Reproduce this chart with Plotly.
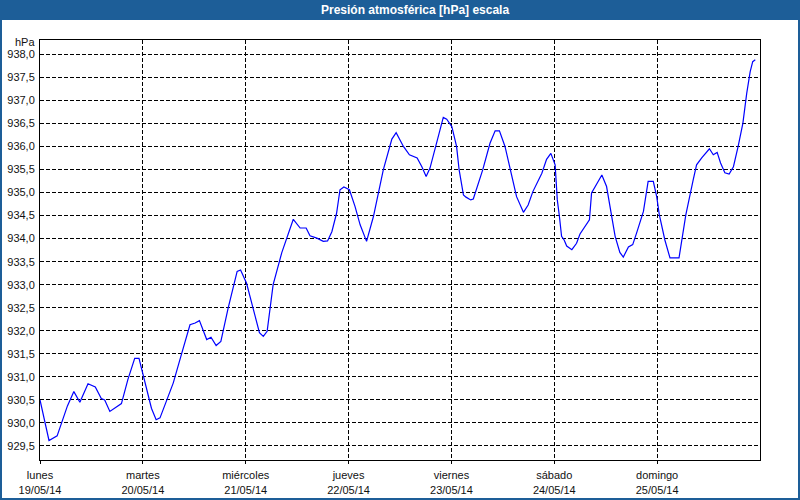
import plotly.graph_objects as go

# ---- data (hours since Mon 19/05/14 00:00, hPa) ----
hours = [0, 2.1, 4.0, 6.4, 7.9, 9.3, 11.2, 12.9, 14.3, 15.1, 16.3, 19.0, 20.5, 22.1, 23.1,
         24.3, 26.0, 27.1, 28.0, 29.6, 31.1, 33.1, 35.0, 36.2, 37.2, 38.9, 39.9, 41.1, 42.2,
         43.9, 46.0, 46.8, 48.2, 49.8, 51.2, 52.1, 53.0, 54.4, 56.4, 59.1, 60.7, 62.1, 63.0,
         64.6, 66.1, 67.1, 68.1, 69.2, 70.0, 70.9, 72.2, 73.5, 74.7, 76.2, 77.8, 80.1, 82.1,
         83.1, 84.8, 86.2, 88.0, 89.1, 90.1, 91.0, 92.6, 94.1, 94.9, 96.1, 97.2, 97.8, 98.8,
         99.4, 100.5, 101.1, 103.3, 105.0, 106.2, 107.2, 108.5, 109.8, 111.2, 112.8, 113.9,
         115.0, 117.1, 118.2, 119.2, 120.2, 120.7, 121.2, 121.7, 122.3, 122.9, 124.1, 125.2,
         126.0, 126.8, 128.2, 128.7, 129.9, 131.1, 132.2, 133.0, 134.2, 135.3, 136.1, 137.3,
         138.3, 139.2, 140.8, 141.9, 143.1, 143.9, 144.5, 145.8, 147.0, 149.1, 150.7, 152.4,
         153.2, 154.4, 155.2, 156.2, 157.1, 158.0, 158.8, 159.8, 160.8, 161.8, 162.9, 164.0,
         164.9, 165.7, 166.3, 166.9]
pressure = [930.50, 929.62, 929.72, 930.37, 930.68, 930.45, 930.85, 930.78, 930.53, 930.50,
            930.25, 930.42, 930.94, 931.40, 931.40, 930.97, 930.32, 930.07, 930.11, 930.50,
            930.87, 931.52, 932.13, 932.17, 932.22, 931.81, 931.86, 931.68, 931.77, 932.49,
            933.29, 933.32, 933.03, 932.46, 931.96, 931.88, 931.99, 933.00, 933.69, 934.42,
            934.23, 934.23, 934.06, 934.01, 933.94, 933.95, 934.15, 934.55, 935.06, 935.12,
            935.06, 934.70, 934.30, 933.94, 934.48, 935.49, 936.16, 936.30, 936.00, 935.82,
            935.75, 935.56, 935.35, 935.53, 936.07, 936.63, 936.59, 936.43, 936.00, 935.49,
            934.95, 934.90, 934.84, 934.86, 935.49, 936.07, 936.34, 936.34, 936.00, 935.49,
            934.91, 934.57, 934.73, 935.02, 935.42, 935.72, 935.85, 935.60, 934.84, 934.48,
            934.05, 933.97, 933.84, 933.76, 933.90, 934.10, 934.21, 934.41, 934.99, 935.20,
            935.38, 935.13, 934.70, 934.05, 933.70, 933.60, 933.82, 933.87, 934.12, 934.59,
            935.24, 935.24, 934.91, 934.52, 933.97, 933.58, 933.58, 934.52, 935.27, 935.60,
            935.75, 935.85, 935.95, 935.82, 935.87, 935.64, 935.43, 935.40, 935.56, 936.00,
            936.50, 937.15, 937.62, 937.84, 937.88]

day_names = ["lunes", "martes", "miércoles", "jueves", "viernes", "sábado", "domingo"]
day_dates = ["19/05/14", "20/05/14", "21/05/14", "22/05/14", "23/05/14", "24/05/14", "25/05/14"]
day_hours = [0, 24, 48, 72, 96, 120, 144]
y_ticks = [929.5 + 0.5 * i for i in range(18)]

title_text = "Presión atmosférica [hPa] escala"
unit_text = "hPa"

# ---- layout geometry (pixels) ----
W, H = 800, 500
L, R, T, B = 40, 40, 40, 40
PW, PH = W - L - R, H - T - B


def px_x(p):
    return (p - L) / PW


def px_y(p):
    return 1 - (p - T) / PH


FONT = "Tahoma, 'Liberation Sans', sans-serif"
BLUE = "#1d5e98"

fig = go.Figure()
fig.add_trace(go.Scatter(x=hours, y=pressure, mode="lines",
                         line=dict(color="#0000ff", width=1.2),
                         hoverinfo="skip", showlegend=False))

fig.update_layout(
    width=W, height=H,
    margin=dict(l=L, r=R, t=T, b=B, autoexpand=False),
    paper_bgcolor="#ffffff", plot_bgcolor="#ffffff",
    separators=",.",
    font=dict(family=FONT, size=11, color="#111111"),
    xaxis=dict(range=[0, 168], tickmode="array", tickvals=day_hours,
               ticktext=[f"{n}<br>{d}" for n, d in zip(day_names, day_dates)],
               showgrid=True, gridcolor="#000000", gridwidth=1, griddash="4px,2px",
               showline=True, linecolor="#000000", linewidth=1, mirror=True,
               ticks="outside", ticklen=3, tickcolor="#000000",
               ticklabelstandoff=2, zeroline=False, fixedrange=True, automargin=False),
    yaxis=dict(range=[929.196, 938.31], tickmode="array", tickvals=y_ticks,
               tickformat=".1f",
               showgrid=True, gridcolor="#000000", gridwidth=1, griddash="4px,2px",
               showline=True, linecolor="#000000", linewidth=1, mirror=True,
               ticks="", ticklabelstandoff=2, zeroline=False, fixedrange=True,
               automargin=False),
    shapes=[
        dict(type="rect", xref="paper", yref="paper",
             x0=px_x(0), x1=px_x(W), y0=px_y(0), y1=px_y(20),
             fillcolor=BLUE, line=dict(width=0), layer="below"),
        dict(type="rect", xref="paper", yref="paper",
             x0=px_x(0), x1=px_x(W), y0=px_y(0), y1=px_y(H),
             fillcolor="rgba(0,0,0,0)", line=dict(color=BLUE, width=4)),
    ],
    annotations=[
        dict(text=f"<b>{title_text}</b>", xref="paper", yref="paper",
             x=px_x(415), y=px_y(10), xanchor="center", yanchor="middle",
             showarrow=False, font=dict(family=FONT, size=12, color="#ffffff")),
        dict(text=unit_text, xref="paper", yref="paper",
             x=px_x(37), y=px_y(42.5), xanchor="right", yanchor="middle",
             showarrow=False, font=dict(family=FONT, size=11, color="#111111")),
    ],
)

fig.write_html(
    "out.html",
    config={"displayModeBar": False, "staticPlot": True},
    post_script="document.body.style.margin='0';document.body.style.overflow='hidden';",
)
